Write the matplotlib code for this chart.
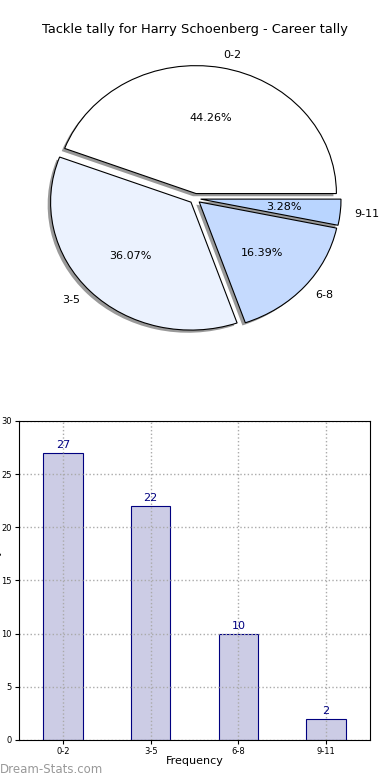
import matplotlib
matplotlib.use("Agg")
import matplotlib.pyplot as plt

categories = ["0-2", "3-5", "6-8", "9-11"]
counts = [27, 22, 10, 2]
pie_colors = ["#FFFFFF", "#EBF2FE", "#C5DAFE", "#B9D5FF"]
title = "Tackle tally for Harry Schoenberg - Career tally"
yticks = [0, 5, 10, 15, 20, 25, 30]

fig = plt.figure(figsize=(3.9, 7.8), dpi=100)

# Pie
axp = fig.add_axes([0.05, 0.5404, 0.9, 0.41])
wedges, texts, autotexts = axp.pie(
    counts, labels=categories, colors=pie_colors, autopct="%1.2f%%",
    explode=[0.04] * len(counts), startangle=0,
    shadow={"ox": -0.015, "oy": -0.015, "facecolor": "#999999", "alpha": 1.0, "edgecolor": "none"},
    wedgeprops=dict(edgecolor="black", linewidth=0.8),
    textprops=dict(fontsize=8))
axp.set_aspect("auto")
axp.set_xlim(-1.25, 1.25)
axp.set_ylim(-1.25, 1.25)
fig.text(0.5, 0.962, title, ha="center", va="center", fontsize=9.4)

# Bars
axb = fig.add_axes([0.0487, 0.0513, 0.9, 0.409])
x = list(range(len(categories)))
bars = axb.bar(x, counts, width=0.45, color="#CCCCE5", edgecolor="#000080", linewidth=0.8, zorder=2)
for xi, c in zip(x, counts):
    axb.text(xi, c + 0.25, str(c), ha="center", va="bottom", fontsize=8, color="#000080")
axb.set_xlim(-0.5, 3.5)
axb.set_ylim(0, 30)
axb.set_xticks(x)
axb.set_xticklabels(categories)
axb.set_yticks(yticks)
axb.tick_params(labelsize=6, length=3, pad=2)
axb.grid(True, linestyle=":", color="#aaaaaa", linewidth=1)
axb.set_axisbelow(False)
for sp in axb.spines.values():
    sp.set_zorder(4)
axb.set_xlabel("Frequency", fontsize=8, labelpad=0)
axb.set_ylabel("Tackle tally", fontsize=8)
axb.yaxis.set_label_coords(-0.048, 0.5)
fig.text(0.0, 0.005, "Dream-Stats.com", fontsize=8.5, color="#999999",
         ha="left", va="bottom")

fig.savefig("out.png", dpi=100)
